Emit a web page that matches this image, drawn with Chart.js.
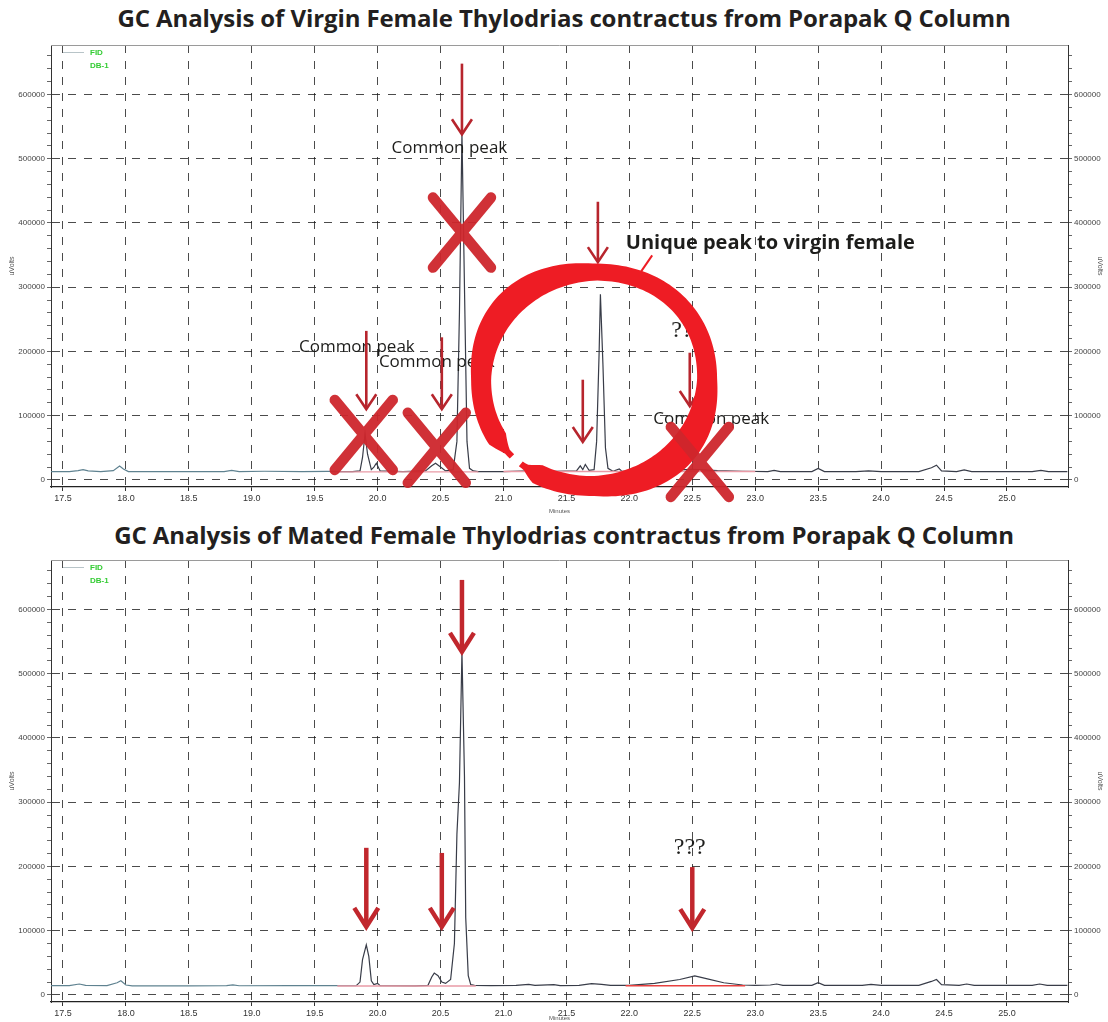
<!DOCTYPE html>
<html>
<head>
<meta charset="utf-8">
<title>GC Analysis – Thylodrias contractus</title>
<script src="https://cdn.jsdelivr.net/npm/chart.js@4.4.1/dist/chart.umd.min.js"></script>
<style>
  html, body { margin: 0; padding: 0; background: #fff; }
  body { width: 1108px; height: 1022px; position: relative; overflow: hidden; }
  .gc-title {
    position: absolute; left: 0; width: 1108px; padding-left: 20px; box-sizing: border-box;
    text-align: center; white-space: nowrap; color: #231f20;
    font: 700 24px 'Open Sans', sans-serif; letter-spacing: -0.1px; line-height: 32px;
  }
  .gc-wrap { position: absolute; left: 0; width: 1108px; }
</style>
</head>
<body>
<div class="gc-title" style="top:2px">GC Analysis of Virgin Female Thylodrias contractus from Porapak Q Column</div>
<div class="gc-wrap" style="top:32px;height:483px"><canvas id="gc-virgin"></canvas></div>
<div class="gc-title" style="top:519px">GC Analysis of Mated Female Thylodrias contractus from Porapak Q Column</div>
<div class="gc-wrap" style="top:547px;height:475px"><canvas id="gc-mated"></canvas></div>

<script>
// ─── AXES ─────────────────────────────────────────────────────────
const xTicks = [17.5, 18.0, 18.5, 19.0, 19.5, 20.0, 20.5, 21.0, 21.5, 22.0, 22.5, 23.0, 23.5, 24.0, 24.5, 25.0];
const yMajorTicks = [0, 100000, 200000, 300000, 400000, 500000, 600000];
const X_MIN = 17.405, X_MAX = 25.485;
const Y_MIN = -11000, Y_MAX = 677000;

// ─── VIRGIN FEMALE TRACE (minutes / uVolts) ───────────────────────
const virginTime = [
  17.40, 17.55, 17.62, 17.66, 17.70, 17.80, 17.90, 17.95, 17.98, 18.02,
  18.20, 18.50, 18.78, 18.84, 18.90, 19.10, 19.40, 19.60, 19.70, 19.80,
  19.86, 19.88, 19.90, 19.92, 19.95, 19.97, 19.99, 20.02, 20.20, 20.38,
  20.43, 20.46, 20.50, 20.54, 20.60, 20.63, 20.65, 20.67, 20.69, 20.71,
  20.73, 20.76, 20.80, 21.00, 21.20, 21.40, 21.58, 21.61, 21.63, 21.65,
  21.68, 21.72, 21.74, 21.76, 21.77, 21.79, 21.81, 21.83, 21.87, 21.92,
  21.94, 22.10, 22.30, 22.50, 22.70, 22.90, 23.10, 23.15, 23.20, 23.45,
  23.50, 23.55, 23.80, 23.90, 24.00, 24.30, 24.40, 24.44, 24.48, 24.60,
  24.66, 24.72, 25.20, 25.27, 25.33, 25.48
];
const virginSignal = [
  13000, 13000, 14500, 16000, 14000, 13000, 14500, 21500, 17000, 13000,
  13000, 12800, 13000, 15000, 13000, 13500, 13000, 13200, 13000, 13000,
  14000, 35000, 72000, 40000, 16000, 20000, 26000, 14000, 13000, 14000,
  22000, 26000, 20000, 14000, 16000, 60000, 260000, 540000, 300000, 60000,
  18000, 14000, 13000, 13000, 14000, 13500, 14000, 22000, 16000, 24000,
  15000, 16000, 60000, 200000, 289000, 180000, 50000, 18000, 13500, 17000,
  13500, 14000, 15000, 16500, 14500, 13500, 13000, 15000, 13000, 13000,
  18000, 13000, 13000, 14000, 13000, 13000, 19000, 23000, 14000, 13000,
  15500, 13000, 13000, 15000, 13000, 13000
];
// integration baseline (null = break)
const virginBaseTime   = [19.68, 20.80, 20.80, 21.00, 23.00];
const virginBaseSignal = [12600, 12600, null, 13200, 13200];

// ─── MATED FEMALE TRACE ───────────────────────────────────────────
const matedTime = [
  17.40, 17.55, 17.63, 17.68, 17.85, 17.93, 17.96, 18.00, 18.05, 18.50,
  18.80, 18.85, 18.90, 19.30, 19.60, 19.83, 19.86, 19.88, 19.91, 19.93,
  19.95, 19.97, 20.00, 20.02, 20.30, 20.40, 20.43, 20.45, 20.48, 20.51,
  20.54, 20.58, 20.61, 20.63, 20.65, 20.67, 20.69, 20.70, 20.72, 20.74,
  20.77, 20.90, 21.10, 21.20, 21.25, 21.40, 21.45, 21.60, 21.70, 21.78,
  21.85, 22.00, 22.20, 22.40, 22.52, 22.62, 22.75, 22.90, 23.00, 23.12,
  23.17, 23.22, 23.45, 23.50, 23.55, 23.85, 23.92, 24.00, 24.30, 24.40,
  24.44, 24.48, 24.62, 24.68, 24.74, 25.20, 25.26, 25.32, 25.48
];
const matedSignal = [
  14500, 14500, 17000, 15000, 14500, 19000, 22000, 15500, 14000, 14000,
  14500, 15500, 14300, 14500, 14500, 14500, 20000, 55000, 78000, 60000,
  22000, 16000, 18000, 14500, 14000, 15000, 28000, 34000, 30000, 20000,
  18000, 24000, 80000, 250000, 330000, 534000, 340000, 120000, 30000, 16000,
  15000, 14500, 15000, 16500, 15000, 16000, 14500, 15000, 17500, 16500,
  15000, 15000, 18000, 24000, 29500, 25000, 19000, 15500, 15000, 15500,
  17000, 15000, 15000, 19000, 15000, 15000, 16500, 15000, 15000, 21000,
  24000, 16000, 15000, 17000, 15000, 15000, 17000, 15000, 15000
];
const matedBaseTime   = [19.68, 20.78, 20.78, 21.97, 22.92];
const matedBaseSignal = [14000, 14000, null, 14300, 14300];

// ─── HAND MARKUP (minutes / uVolts) ───────────────────────────────
// arrows: [time, tail, tip]
const virginArrows = [[20.67, 648000, 538000], [19.91, 232000, 110000], [20.51, 222000, 110000],
                      [21.75, 433000, 339000], [21.63, 156000, 59000], [22.48, 198000, 115000]];
const virginCrosses = [[20.67, 385000], [19.89, 70000], [20.47, 50000], [22.56, 28000]];
const virginLabels = [
  { text: 'Common peak', x: 20.57, y: 516000 },
  { text: 'Common peak', x: 19.835, y: 206000 },
  { text: 'Common peak', x: 20.47, y: 184000 },
  { text: 'Common peak', x: 22.65, y: 95000 },
  { text: '???', x: 22.46, y: 233000, kind: 'query' },
  { text: 'Unique peak to virgin female', x: 23.12, y: 368000, kind: 'bold' }
];
const virginRing = [21.72, 157000];

const matedArrows = [[20.67, 646000, 534000], [19.91, 229000, 106000], [20.51, 221000, 106000], [22.50, 199000, 104000]];
const matedLabels = [{ text: '???', x: 22.48, y: 229000, kind: 'query' }];

// ─── DRAW HELPERS ─────────────────────────────────────────────────
function drawArrow(ctx, x, y0, y1, w, hw, hh, color) {
  ctx.save();
  ctx.strokeStyle = color; ctx.lineWidth = w; ctx.lineJoin = 'miter';
  ctx.beginPath(); ctx.moveTo(x, y0); ctx.lineTo(x, y1 - 2); ctx.stroke();
  ctx.beginPath(); ctx.moveTo(x - hw, y1 - hh); ctx.lineTo(x, y1); ctx.lineTo(x + hw, y1 - hh); ctx.stroke();
  ctx.restore();
}

function drawCross(ctx, x, y) {
  ctx.save();
  ctx.strokeStyle = 'rgba(206,38,44,0.95)'; ctx.lineWidth = 10.5; ctx.lineCap = 'round';
  ctx.beginPath();
  ctx.moveTo(x - 29, y - 35); ctx.lineTo(x + 29, y + 35);
  ctx.moveTo(x + 29, y - 35); ctx.lineTo(x - 29, y + 35);
  ctx.stroke();
  ctx.restore();
}

// brush-like open ring, heaviest at the lower right, tapered at both ends
function drawRing(ctx, cx, cy) {
  const rx = 113, ry = 107, n = 2.15, a0 = 2.36, a1 = 2.25 + Math.PI * 2, steps = 200;
  const se = v => Math.sign(v) * Math.pow(Math.abs(v), 2 / n);
  const width = a => {
    const c = Math.cos(a), s = Math.sin(a);
    const w = 20 + 18 * Math.max(0, c * s) - 3 * Math.max(-s, 0);
    const taper = Math.min(1, (a - a0) / 0.22, (a1 - a) / 0.18);
    return w * Math.max(taper, 0.3);
  };
  const outer = [], inner = [];
  for (let i = 0; i <= steps; i++) {
    const a = a0 + (a1 - a0) * i / steps, h = width(a) / 2;
    const ux = se(Math.cos(a)), uy = se(Math.sin(a));
    outer.push([cx + (rx + h) * ux, cy + (ry + h) * uy]);
    inner.push([cx + (rx - h) * ux, cy + (ry - h) * uy]);
  }
  ctx.save();
  ctx.fillStyle = '#ee1c24';
  ctx.beginPath();
  outer.forEach(([px, py], i) => i ? ctx.lineTo(px, py) : ctx.moveTo(px, py));
  inner.reverse().forEach(([px, py]) => ctx.lineTo(px, py));
  ctx.closePath(); ctx.fill();
  // short leader towards the label
  const a = -1.2;
  const sx = cx + (rx + 8) * se(Math.cos(a)), sy = cy + (ry + 8) * se(Math.sin(a));
  ctx.strokeStyle = '#ee1c24'; ctx.lineWidth = 2;
  ctx.beginPath(); ctx.moveTo(sx, sy); ctx.lineTo(sx + 11, sy - 16); ctx.stroke();
  ctx.restore();
}

function drawLabel(ctx, lb, px, py) {
  ctx.save();
  ctx.fillStyle = '#1d1d1b';
  ctx.textAlign = 'center'; ctx.textBaseline = 'middle';
  if (lb.kind === 'query') ctx.font = "24px 'Liberation Serif', serif";
  else if (lb.kind === 'bold') ctx.font = "bold 20px 'Open Sans', sans-serif";
  else ctx.font = "17px 'Open Sans', sans-serif";
  ctx.fillText(lb.text, px, py);
  ctx.restore();
}

function markupPlugin(m) {
  return {
    id: 'gcMarkup',
    afterDraw(chart) {
      const { ctx, scales: { x, y } } = chart;
      const px = v => x.getPixelForValue(v), py = v => y.getPixelForValue(v);
      (m.labels || []).forEach(lb => drawLabel(ctx, lb, px(lb.x), py(lb.y)));
      (m.arrows || []).forEach(([t, a, b]) => drawArrow(ctx, px(t), py(a), py(b), m.arrowW, m.headW, m.headH, m.arrowColor));
      if (m.ring) drawRing(ctx, px(m.ring[0]), py(m.ring[1]));
      (m.crosses || []).forEach(([t, v]) => drawCross(ctx, px(t), py(v)));
    }
  };
}

// plot frame + instrument legend
const framePlugin = {
  id: 'gcFrame',
  beforeDatasetsDraw(chart) {
    const { ctx, chartArea: { left, right, top } } = chart;
    ctx.save();
    ctx.strokeStyle = '#9a9a9a'; ctx.lineWidth = 1;
    ctx.beginPath(); ctx.moveTo(left, top + 0.5); ctx.lineTo(right, top + 0.5); ctx.stroke();
    ctx.strokeStyle = '#b8c4c8';
    ctx.beginPath(); ctx.moveTo(left + 12, top + 7.5); ctx.lineTo(left + 33, top + 7.5); ctx.stroke();
    ctx.fillStyle = '#33cc33'; ctx.font = 'bold 8px Arial'; ctx.textBaseline = 'middle';
    ctx.fillText('FID', left + 39, top + 8);
    ctx.fillText('DB-1', left + 39, top + 21);
    ctx.restore();
  }
};

// ─── CHART BUILDER ────────────────────────────────────────────────
const GRID = 'rgba(30,30,30,0.8)';
const isMajor = ctx => ctx.tick && yMajorTicks.includes(ctx.tick.value);
const minorTicks = s => {
  const t = [];
  for (let v = 0; v <= 660000; v += 20000) t.push({ value: v });
  s.ticks = t;
};

function yAxis(pos, width, titlePad) {
  return {
    type: 'linear', position: pos, min: Y_MIN, max: Y_MAX,
    afterBuildTicks: minorTicks,
    afterFit: s => { s.width = width; },
    ticks: {
      autoSkip: false, padding: 2, color: '#444',
      font: { family: 'Arial', size: 8 },
      callback: v => yMajorTicks.includes(v) ? String(v) : ''
    },
    grid: {
      drawOnChartArea: pos === 'left',
      color: c => isMajor(c) ? GRID : 'rgba(0,0,0,0)',
      tickColor: '#666', tickLength: 4
    },
    border: { color: '#333', width: 1, dash: [8, 8] },
    title: { display: true, text: 'uVolts', color: '#555', font: { family: 'Arial', size: 7 }, padding: { top: titlePad, bottom: 0 } }
  };
}

function gcChart(id, time, signal, baseTime, baseSignal, axisH, markup) {
  return new Chart(document.getElementById(id), {
    type: 'line',
    data: {
      datasets: [
        {
          data: baseTime.map((t, i) => ({ x: t, y: baseSignal[i] })),
          borderWidth: 1.4, spanGaps: false,
          segment: { borderColor: c => c.p0.parsed.x > 21.5 ? '#e8403f' : '#e99aa6' }
        },
        {
          data: time.map((t, i) => ({ x: t, y: signal[i] })),
          borderWidth: 1.2,
          segment: { borderColor: c => c.p0.parsed.x < 19.7 ? '#5f8290' : '#383c48' }
        }
      ]
    },
    options: {
      responsive: true, maintainAspectRatio: false, animation: false,
      layout: { padding: { top: 13, left: 0, right: 0, bottom: 0 } },
      elements: { point: { radius: 0 }, line: { tension: 0 } },
      plugins: { legend: { display: false }, tooltip: { enabled: false }, title: { display: false } },
      scales: {
        x: {
          type: 'linear', min: X_MIN, max: X_MAX,
          afterBuildTicks: s => { s.ticks = xTicks.map(v => ({ value: v })); },
          afterFit: s => { s.height = axisH; },
          ticks: { autoSkip: false, maxRotation: 0, padding: 2, color: '#333', font: { family: 'Arial', size: 9 }, callback: v => v.toFixed(1) },
          grid: { color: GRID, tickColor: '#333', tickLength: 4 },
          border: { color: '#222', width: 1.3, dash: [8, 8] },
          title: { display: true, text: 'Minutes', color: '#555', font: { family: 'Arial', size: 6 }, padding: 0 }
        },
        y: yAxis('left', 51, 8),
        y2: yAxis('right', 40, 4)
      }
    },
    plugins: [framePlugin, markupPlugin(markup)]
  });
}

gcChart('gc-virgin', virginTime, virginSignal, virginBaseTime, virginBaseSignal, 28, {
  arrows: virginArrows, crosses: virginCrosses, labels: virginLabels, ring: virginRing,
  arrowW: 2.6, headW: 10, headH: 15, arrowColor: '#b7252d'
});
gcChart('gc-mated', matedTime, matedSignal, matedBaseTime, matedBaseSignal, 20, {
  arrows: matedArrows, labels: matedLabels,
  arrowW: 4.5, headW: 12, headH: 19, arrowColor: '#c1272d'
});
</script>
</body>
</html>
